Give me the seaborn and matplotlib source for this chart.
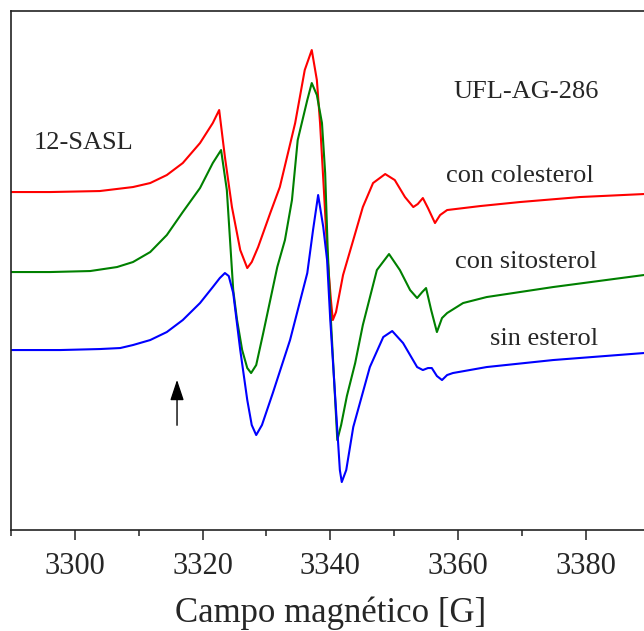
import matplotlib
matplotlib.use("Agg")
import matplotlib.pyplot as plt
from matplotlib.ticker import MultipleLocator
import pandas as pd
import seaborn as sns

# Espectros EPR (campo en G, senal en u.a. relativa a la linea base)
campo_col = [3290.0, 3296.1, 3303.9, 3309.1, 3311.8, 3314.4, 3316.9, 3319.6, 3321.6, 3322.6,
             3323.5, 3324.6, 3325.9, 3327.0, 3327.7, 3328.7, 3330.6, 3332.1, 3334.5, 3336.0,
             3337.1, 3337.9, 3338.4, 3339.0, 3339.6, 3340.1, 3340.4, 3340.9, 3342.0, 3343.6,
             3345.1, 3346.7, 3348.6, 3350.1, 3351.7, 3353.0, 3353.7, 3354.5, 3355.3, 3356.4,
             3357.2, 3358.3, 3363.5, 3369.7, 3379.1, 3389.1]
senal_col = [0.0, 0.0, 0.1, 0.5, 0.9, 1.7, 2.9, 4.9, 6.9, 8.2,
             3.5, -1.5, -5.8, -7.6, -7.0, -5.5, -2.1, 0.5, 6.9, 12.2,
             14.2, 11.2, 6.9, 0.2, -6.8, -10.8, -12.8, -12.0, -8.3, -4.8,
             -1.5, 0.9, 1.8, 1.2, -0.5, -1.5, -1.2, -0.6, -1.6, -3.1,
             -2.3, -1.8, -1.4, -1.0, -0.5, -0.2]

campo_sit = [3290.0, 3296.1, 3302.4, 3306.6, 3309.1, 3311.8, 3314.4, 3316.9, 3319.6, 3321.6,
             3322.9, 3323.8, 3324.3, 3324.8, 3325.4, 3326.2, 3327.0, 3327.6, 3328.4, 3329.5,
             3331.7, 3332.9, 3334.0, 3334.9, 3336.4, 3337.1, 3337.9, 3338.7, 3339.2, 3339.6,
             3340.1, 3340.6, 3341.1, 3341.7, 3342.6, 3343.9, 3345.1, 3347.3, 3349.2, 3350.9,
             3352.5, 3353.6, 3354.4, 3355.0, 3355.8, 3356.7, 3357.5, 3358.3, 3360.8, 3364.5,
             3374.9, 3389.1]
senal_sit = [0.0, 0.0, 0.1, 0.5, 1.0, 2.0, 3.7, 6.0, 8.4, 10.9,
             12.2, 8.2, 3.2, -1.8, -4.8, -7.8, -9.6, -10.1, -9.3, -6.1,
             0.5, 3.2, 7.2, 13.2, 17.2, 18.9, 17.7, 14.9, 9.9, 2.2,
             -4.8, -10.8, -16.8, -15.3, -12.4, -9.1, -5.3, 0.2, 1.8, 0.2,
             -1.8, -2.6, -2.0, -1.6, -3.8, -6.0, -4.6, -4.1, -3.1, -2.5,
             -1.5, -0.3]

campo_sin = [3290.0, 3297.7, 3303.9, 3307.1, 3309.1, 3311.8, 3314.4, 3316.9, 3319.6, 3321.6,
             3322.7, 3323.5, 3324.1, 3324.8, 3325.9, 3327.0, 3327.7, 3328.4, 3329.3, 3331.0,
             3333.7, 3336.4, 3337.3, 3338.1, 3338.9, 3339.5, 3340.0, 3340.6, 3341.1, 3341.5,
             3341.8, 3342.5, 3343.6, 3346.2, 3348.3, 3349.7, 3351.4, 3353.6, 3354.5, 3355.3,
             3355.9, 3356.7, 3357.5, 3358.3, 3359.2, 3364.5, 3374.9, 3389.1]
senal_sin = [0.0, 0.0, 0.1, 0.2, 0.5, 1.0, 1.8, 3.0, 4.7, 6.3,
             7.2, 7.7, 7.4, 5.7, 0.0, -5.0, -7.5, -8.5, -7.5, -4.3,
             1.0, 7.7, 12.0, 15.5, 12.3, 9.0, 3.0, -3.0, -8.0, -12.0,
             -13.2, -12.0, -7.7, -1.7, 1.3, 1.9, 0.7, -1.7, -2.0, -1.8,
             -1.8, -2.6, -3.0, -2.5, -2.3, -1.7, -1.0, -0.3]

muestras = ["con colesterol", "con sitosterol", "sin esterol"]
desplazamientos = [33.8, 25.8, 18.0]
colores = ["#ff0000", "#008000", "#0000ff"]

partes = []
for nombre, campo, senal, d in zip(muestras, [campo_col, campo_sit, campo_sin],
                                   [senal_col, senal_sit, senal_sin], desplazamientos):
    partes.append(pd.DataFrame({"campo": campo,
                                "senal": [s + d for s in senal],
                                "muestra": nombre}))
df = pd.concat(partes, ignore_index=True)

sns.set_style("white")
plt.rcParams["font.family"] = ["Liberation Serif", "DejaVu Serif"]

fig = plt.figure(figsize=(6.44, 6.31), dpi=100)
ax = fig.add_axes([0.0171, 0.160, 0.9915, 0.8225])

sns.lineplot(data=df, x="campo", y="senal", hue="muestra", palette=dict(zip(muestras, colores)),
             sort=False, estimator=None, lw=1.5, legend=False, ax=ax)

ax.set_xlim(3290, 3390)
ax.set_ylim(0, 51.9)
ax.xaxis.set_major_locator(MultipleLocator(20))
ax.xaxis.set_minor_locator(MultipleLocator(10))
ax.tick_params(axis="x", which="major", direction="out", length=7, width=1.1,
               labelsize=22, pad=9, bottom=True, top=False, color="#222222")
ax.tick_params(axis="x", which="minor", direction="out", length=4, width=1.1,
               bottom=True, top=False, color="#222222")
ax.set_yticks([])
for s in ax.spines.values():
    s.set_color("#222222")
    s.set_linewidth(1.2)

ax.set_xlabel("Campo magnético [G]", fontsize=25, labelpad=11)
ax.set_ylabel("")

ax.text(3301.4, 38.7, "12-SASL", fontsize=19, ha="center", va="center")
ax.text(3370.7, 43.8, "UFL-AG-286", fontsize=19, ha="center", va="center")
for nombre, x, y in zip(muestras, [3369.7, 3370.7, 3373.5], [35.4, 26.8, 19.1]):
    ax.text(x, y, nombre, fontsize=19, ha="center", va="center")

ax.annotate("", xy=(3316.0, 15.3), xytext=(3316.0, 10.2),
            arrowprops=dict(arrowstyle="-|>,head_length=0.9,head_width=0.3",
                            color="black", lw=1.0, mutation_scale=14))

fig.savefig("out.png", dpi=100)
